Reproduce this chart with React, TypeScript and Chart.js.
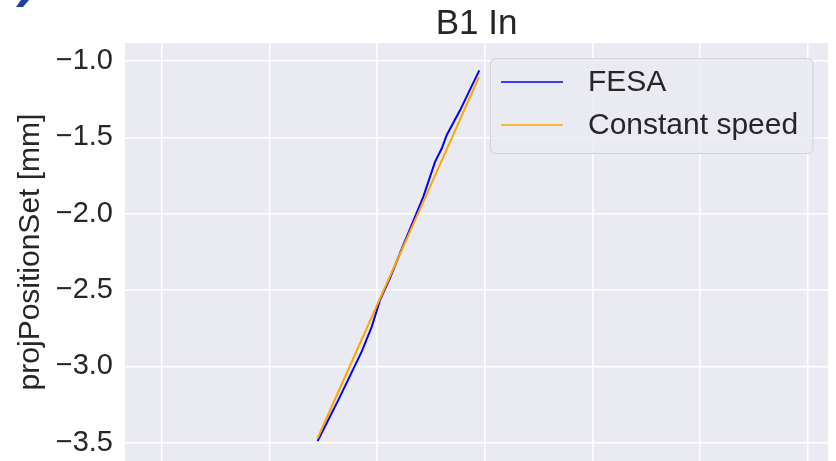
import React, { useEffect, useRef } from "react";
import { Chart, registerables } from "chart.js";

Chart.register(...registerables);

const chartTitle = "B1 In";
const yAxisLabel = "projPositionSet [mm]";
const seriesNames = ["FESA", "Constant speed"];
const seriesColors = ["#0000FF", "#FFA500"];

const fesaX = [1.448, 1.64, 1.857, 1.95, 2.027, 2.12, 2.228, 2.429, 2.538, 2.6, 2.646, 2.77, 2.949];
const fesaY = [-3.489, -3.221, -2.904, -2.741, -2.566, -2.422, -2.232, -1.89, -1.661, -1.573, -1.486, -1.323, -1.061];
const constX = [1.448, 2.946];
const constY = [-3.471, -1.105];

const yTicks = [-3.5, -3.0, -2.5, -2.0, -1.5, -1.0];
const xTicks = [0, 1, 2, 3, 4, 5, 6];
const yRange = [-3.62, -0.882];
const xRange = [-0.34, 6.186];

const FONT = "'Liberation Sans', Arial, sans-serif";
const TEXT = "#262626";

const decorPlugin = {
  id: "decor",
  beforeDraw(chart: any) {
    const { ctx, chartArea } = chart;
    ctx.save();
    ctx.fillStyle = "#EAEAF2";
    ctx.fillRect(chartArea.left, chartArea.top, chartArea.right - chartArea.left, chartArea.bottom - chartArea.top);
    // cut-off fragment at top-left corner
    ctx.fillStyle = "#1F3FA8";
    ctx.beginPath();
    ctx.moveTo(21, 0);
    ctx.lineTo(29, 0);
    ctx.lineTo(23, 7);
    ctx.lineTo(16, 7);
    ctx.closePath();
    ctx.fill();
    ctx.restore();
  },
  afterDraw(chart: any) {
    const { ctx, chartArea } = chart;
    ctx.save();
    // title
    ctx.fillStyle = TEXT;
    ctx.font = `35px ${FONT}`;
    ctx.textAlign = "center";
    ctx.textBaseline = "alphabetic";
    ctx.fillText(chartTitle, (chartArea.left + chartArea.right) / 2, 34);
    // y label
    ctx.save();
    ctx.translate(31, (chartArea.top + chartArea.bottom) / 2);
    ctx.rotate(-Math.PI / 2);
    ctx.font = `30px ${FONT}`;
    ctx.textAlign = "center";
    ctx.textBaseline = "middle";
    ctx.fillText(yAxisLabel, 0, 0);
    ctx.restore();
    // legend
    const bx = 490.5, by = 58.5, bw = 322.5, bh = 95, r = 6;
    ctx.beginPath();
    ctx.moveTo(bx + r, by);
    ctx.lineTo(bx + bw - r, by);
    ctx.quadraticCurveTo(bx + bw, by, bx + bw, by + r);
    ctx.lineTo(bx + bw, by + bh - r);
    ctx.quadraticCurveTo(bx + bw, by + bh, bx + bw - r, by + bh);
    ctx.lineTo(bx + r, by + bh);
    ctx.quadraticCurveTo(bx, by + bh, bx, by + bh - r);
    ctx.lineTo(bx, by + r);
    ctx.quadraticCurveTo(bx, by, bx + r, by);
    ctx.closePath();
    ctx.fillStyle = "rgba(234,234,242,0.85)";
    ctx.fill();
    ctx.strokeStyle = "#D2D2D8";
    ctx.lineWidth = 1;
    ctx.stroke();
    chart.data.datasets.forEach((ds: any, i: number) => {
      const y = 82 + i * 43;
      ctx.strokeStyle = ds.borderColor;
      ctx.lineWidth = 1.5;
      ctx.beginPath();
      ctx.moveTo(501, y);
      ctx.lineTo(563, y);
      ctx.stroke();
      ctx.fillStyle = TEXT;
      ctx.font = `30px ${FONT}`;
      ctx.textAlign = "left";
      ctx.textBaseline = "middle";
      ctx.fillText(ds.label, 588, y + 1);
    });
    ctx.restore();
  },
};

export default function App() {
  const ref = useRef<HTMLCanvasElement>(null);
  useEffect(() => {
    if (!ref.current) return;
    const chart = new Chart(ref.current, {
      type: "line",
      data: {
        datasets: [
          {
            label: seriesNames[0],
            data: fesaX.map((x, i) => ({ x, y: fesaY[i] })),
            borderColor: seriesColors[0],
            borderWidth: 2,
            pointRadius: 0,
            tension: 0,
            order: 1,
          },
          {
            label: seriesNames[1],
            data: constX.map((x, i) => ({ x, y: constY[i] })),
            borderColor: seriesColors[1],
            borderWidth: 2,
            pointRadius: 0,
            tension: 0,
            order: 0,
          },
        ],
      },
      options: {
        animation: false,
        responsive: false,
        layout: { padding: { top: 43, right: 8, left: 0, bottom: 0 } },
        plugins: { legend: { display: false }, title: { display: false }, tooltip: { enabled: false } },
        scales: {
          x: {
            type: "linear",
            min: xRange[0],
            max: xRange[1],
            afterBuildTicks: (s: any) => {
              s.ticks = xTicks.map((v) => ({ value: v }));
            },
            afterFit: (s: any) => {
              s.height = 0;
              s.paddingLeft = 0;
              s.paddingRight = 0;
              s.paddingTop = 0;
              s.paddingBottom = 0;
            },
            ticks: { display: false },
            grid: { color: "#FFFFFF", lineWidth: 1.5, drawTicks: false },
            border: { display: false },
          },
          y: {
            type: "linear",
            min: yRange[0],
            max: yRange[1],
            afterBuildTicks: (s: any) => {
              s.ticks = yTicks.map((v) => ({ value: v }));
            },
            afterFit: (s: any) => {
              s.width = 125;
              s.paddingTop = 0;
              s.paddingBottom = 0;
            },
            ticks: {
              color: TEXT,
              font: { family: FONT, size: 29 },
              padding: 12,
              callback: (v: any) => Number(v).toFixed(1).replace("-", "\u2212"),
            },
            grid: { color: "#FFFFFF", lineWidth: 1.5, drawTicks: false },
            border: { display: false },
          },
        },
      },
      plugins: [decorPlugin],
    });
    return () => chart.destroy();
  }, []);
  return (
    <div style={{ position: "fixed", left: 0, top: 0, width: 836, height: 461, background: "#fff" }}>
      <canvas ref={ref} width={836} height={461} style={{ width: 836, height: 461 }} />
    </div>
  );
}
